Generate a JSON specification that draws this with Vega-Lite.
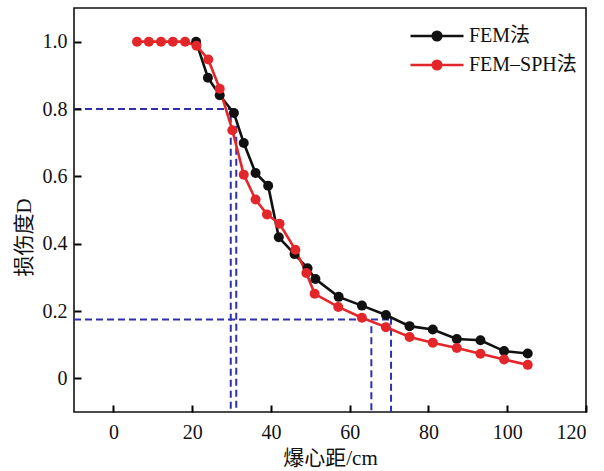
{
  "$schema": "https://vega.github.io/schema/vega-lite/v6.json",
  "width": 512,
  "height": 404,
  "autosize": {"type": "none"},
  "padding": {"left": 74, "top": 8, "right": 18, "bottom": 59},
  "background": "white",
  "config": {
    "view": {"stroke": "#111111", "strokeWidth": 1.6},
    "font": "Liberation Serif, Noto Sans CJK SC",
    "axis": {
      "grid": false,
      "labelFont": "Liberation Serif",
      "labelFontSize": 20,
      "labelColor": "#111111",
      "titleFont": "Liberation Serif, Noto Sans CJK SC",
      "titleFontSize": 21,
      "titleFontWeight": "normal",
      "titleColor": "#111111"
    }
  },
  "datasets": {
    "curves": [
      {"method": "FEM法", "x": 21, "d": 1.0},
      {"method": "FEM法", "x": 24, "d": 0.893},
      {"method": "FEM法", "x": 27, "d": 0.841},
      {"method": "FEM法", "x": 30.6, "d": 0.788},
      {"method": "FEM法", "x": 33.1, "d": 0.699},
      {"method": "FEM法", "x": 36.1, "d": 0.61},
      {"method": "FEM法", "x": 39.3, "d": 0.572},
      {"method": "FEM法", "x": 42, "d": 0.419},
      {"method": "FEM法", "x": 46, "d": 0.369},
      {"method": "FEM法", "x": 49.3, "d": 0.327},
      {"method": "FEM法", "x": 51.3, "d": 0.295},
      {"method": "FEM法", "x": 57.2, "d": 0.242},
      {"method": "FEM法", "x": 63.1, "d": 0.216},
      {"method": "FEM法", "x": 69.2, "d": 0.188},
      {"method": "FEM法", "x": 75.2, "d": 0.155},
      {"method": "FEM法", "x": 81.1, "d": 0.145},
      {"method": "FEM法", "x": 87.2, "d": 0.117},
      {"method": "FEM法", "x": 93.2, "d": 0.113},
      {"method": "FEM法", "x": 99.2, "d": 0.081},
      {"method": "FEM法", "x": 105.2, "d": 0.074},
      {"method": "FEM–SPH法", "x": 6.0, "d": 1.0},
      {"method": "FEM–SPH法", "x": 9.0, "d": 1.0},
      {"method": "FEM–SPH法", "x": 12.1, "d": 1.0},
      {"method": "FEM–SPH法", "x": 15.1, "d": 1.0},
      {"method": "FEM–SPH法", "x": 18.2, "d": 1.0},
      {"method": "FEM–SPH法", "x": 21.1, "d": 0.988},
      {"method": "FEM–SPH法", "x": 24.1, "d": 0.947},
      {"method": "FEM–SPH法", "x": 27, "d": 0.86},
      {"method": "FEM–SPH法", "x": 30.2, "d": 0.737},
      {"method": "FEM–SPH法", "x": 33.1, "d": 0.605},
      {"method": "FEM–SPH法", "x": 36.1, "d": 0.531},
      {"method": "FEM–SPH法", "x": 39, "d": 0.487},
      {"method": "FEM–SPH法", "x": 42.2, "d": 0.459},
      {"method": "FEM–SPH法", "x": 46.2, "d": 0.382},
      {"method": "FEM–SPH法", "x": 49, "d": 0.313},
      {"method": "FEM–SPH法", "x": 51.1, "d": 0.251},
      {"method": "FEM–SPH法", "x": 57.1, "d": 0.212},
      {"method": "FEM–SPH法", "x": 63.1, "d": 0.18},
      {"method": "FEM–SPH法", "x": 69.2, "d": 0.152},
      {"method": "FEM–SPH法", "x": 75.2, "d": 0.123},
      {"method": "FEM–SPH法", "x": 81.1, "d": 0.106},
      {"method": "FEM–SPH法", "x": 87.2, "d": 0.09},
      {"method": "FEM–SPH法", "x": 93.2, "d": 0.073},
      {"method": "FEM–SPH法", "x": 99.2, "d": 0.056},
      {"method": "FEM–SPH法", "x": 105.2, "d": 0.04}
    ],
    "guides": [
      {"x": -10, "y": 0.8, "x2": 30.6, "y2": 0.8},
      {"x": 29.8, "y": 0.78, "x2": 29.8, "y2": -0.1},
      {"x": 31.2, "y": 0.75, "x2": 31.2, "y2": -0.1},
      {"x": -10, "y": 0.175, "x2": 70.5, "y2": 0.175},
      {"x": 65.5, "y": 0.155, "x2": 65.5, "y2": -0.1},
      {"x": 70.5, "y": 0.18, "x2": 70.5, "y2": -0.1}
    ]
  },
  "layer": [
    {
      "data": {"name": "guides"},
      "mark": {"type": "rule", "color": "#2e31a8", "strokeWidth": 2, "strokeDash": [7, 4]},
      "encoding": {
        "x": {"field": "x", "type": "quantitative"},
        "y": {"field": "y", "type": "quantitative"},
        "x2": {"field": "x2"},
        "y2": {"field": "y2"}
      }
    },
    {
      "data": {"name": "curves"},
      "mark": {"type": "line", "strokeWidth": 2.6},
      "encoding": {
        "x": {
          "field": "x", "type": "quantitative",
          "scale": {"domain": [-10, 120], "nice": false, "zero": false},
          "axis": {"values": [0, 20, 40, 60, 80, 100, 120], "title": "爆心距/cm",
                   "domain": false, "ticks": true, "tickSize": 7, "tickWidth": 2, "tickColor": "#000000", "offset": -7, "zindex": 2,
                   "labelPadding": 10, "titlePadding": 5}
        },
        "y": {
          "field": "d", "type": "quantitative",
          "scale": {"domain": [-0.1, 1.1], "nice": false, "zero": false},
          "axis": {"values": [0, 0.2, 0.4, 0.6, 0.8, 1.0], "title": "损伤度D",
                   "domain": false, "ticks": true, "tickSize": 7, "tickWidth": 2, "tickColor": "#000000", "offset": -7, "zindex": 2,
                   "labelPadding": 7, "titlePadding": 8, "titleY": 229,
                   "labelExpr": "datum.value == 0 ? '0' : format(datum.value, '.1f')"}
        },
        "color": {
          "field": "method", "type": "nominal",
          "scale": {"domain": ["FEM法", "FEM–SPH法"], "range": ["#111111", "#e3262a"]},
          "legend": {
            "title": null,
            "orient": "none",
            "legendX": 353,
            "legendY": 18,
            "symbolType": "M-5.3,0L5.3,0M-0.88,0A0.88,0.88,0,1,1,0.88,0A0.88,0.88,0,1,1,-0.88,0Z",
            "symbolSize": 100,
            "symbolStrokeWidth": 2.4,
            "labelFont": "Liberation Serif, Noto Sans CJK SC",
            "labelFontSize": 20,
            "labelColor": "#111111",
            "labelOffset": 22,
            "rowPadding": 9,
            "encode": {
              "symbols": {
                "update": {
                  "fill": {"scale": "color", "field": "value"},
                  "stroke": {"scale": "color", "field": "value"}
                }
              }
            }
          }
        }
      }
    },
    {
      "data": {"name": "curves"},
      "mark": {"type": "point", "filled": true, "size": 100, "opacity": 1},
      "encoding": {
        "x": {"field": "x", "type": "quantitative"},
        "y": {"field": "d", "type": "quantitative"},
        "color": {"field": "method", "type": "nominal", "legend": null}
      }
    }
  ]
}
